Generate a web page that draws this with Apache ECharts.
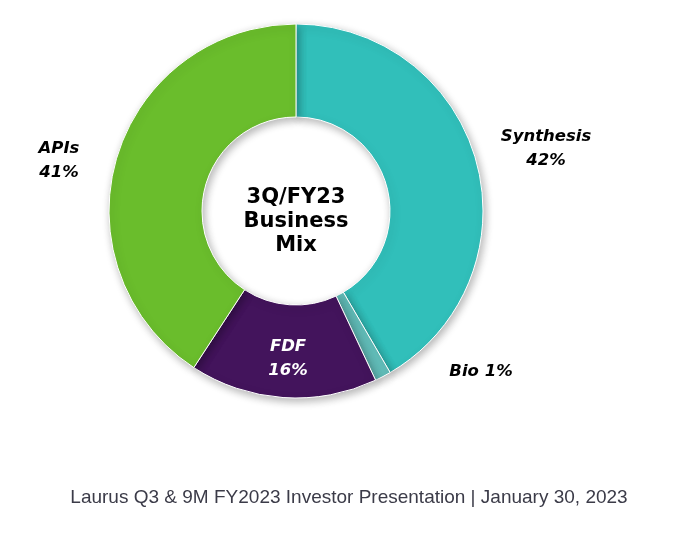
<!DOCTYPE html>
<html>
<head>
<meta charset="utf-8">
<script src="https://cdn.jsdelivr.net/npm/echarts@6/dist/echarts.min.js"></script>
<style>
  html, body { margin: 0; padding: 0; background: #fff; }
  #chart { width: 689px; height: 533px; }
</style>
</head>
<body>
<div id="chart"></div>
<script>
  // segments, clockwise from 12 o'clock
  var segments = ['Synthesis', 'Bio', 'FDF', 'APIs'];
  // slice sizes (share of the ring, %)
  var shares = [41.6, 1.4, 16.2, 40.8];
  // percentages as printed on the labels
  var printedPct = [42, 1, 16, 41];
  var colors = ['#31BFBA', '#62BDB9', '#43145C', '#6ABD2C'];

  var centerText = '3Q/FY23\nBusiness\nMix';
  var footerText = 'Laurus Q3 & 9M FY2023 Investor Presentation | January 30, 2023';

  // where each label sits
  var labelPos = [[546, 149], [481, 372], [288, 359], [59, 161]];

  var myChart = echarts.init(document.getElementById('chart'));

  var data = segments.map(function (name, i) {
    return {
      name: name,
      value: shares[i],
      itemStyle: { color: colors[i] },
      label: { color: name === 'FDF' ? '#ffffff' : '#000000' }
    };
  });

  var option = {
    animation: false,
    graphic: [{
      type: 'text',
      x: 296,
      y: 222,
      style: {
        text: centerText,
        fill: '#000',
        font: 'bold 21px "DejaVu Sans"',
        lineHeight: 24,
        align: 'center',
        verticalAlign: 'middle'
      }
    }, {
      type: 'text',
      x: 349,
      y: 498,
      style: {
        text: footerText,
        fill: '#3b3b48',
        font: '19px "Liberation Sans"',
        align: 'center',
        verticalAlign: 'middle'
      }
    }],
    series: [{
      type: 'pie',
      center: [296, 211],
      radius: [94, 187],
      startAngle: 90,
      clockwise: true,
      silent: true,
      itemStyle: {
        borderColor: '#fff',
        borderWidth: 1,
        shadowBlur: 8,
        shadowColor: 'rgba(0,0,0,0.3)',
        shadowOffsetX: 2,
        shadowOffsetY: 3
      },
      label: {
        show: true,
        fontFamily: 'DejaVu Sans',
        fontWeight: 'bold',
        fontStyle: 'italic',
        fontSize: 16.5,
        lineHeight: 24,
        align: 'center',
        formatter: function (p) {
          var pct = printedPct[p.dataIndex] + '%';
          return p.name === 'Bio' ? p.name + ' ' + pct : p.name + '\n' + pct;
        }
      },
      labelLine: { show: false },
      labelLayout: function (p) {
        var pos = labelPos[p.dataIndex];
        return { x: pos[0], y: pos[1], align: 'center', verticalAlign: 'middle' };
      },
      data: data
    }]
  };

  myChart.setOption(option);
</script>
</body>
</html>
